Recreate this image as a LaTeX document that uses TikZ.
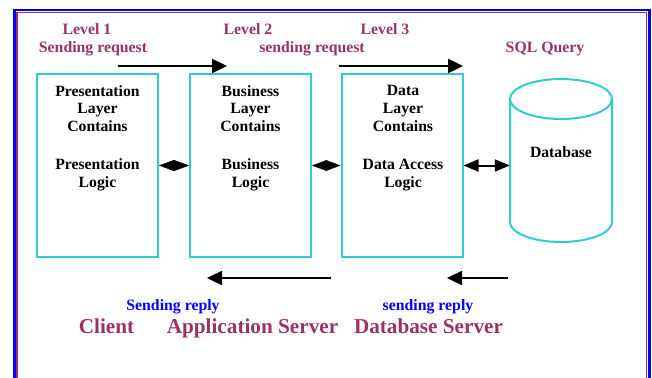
\documentclass[tikz,border=0pt]{standalone}
\usepackage{fontspec}
\setmainfont{Liberation Serif}
\usetikzlibrary{arrows.meta}
\definecolor{plum}{HTML}{993366}
\definecolor{turq}{HTML}{33CCCC}
\definecolor{frameblue}{HTML}{0000EE}
\tikzset{
  layerbox/.style={draw=turq, line width=2pt, minimum width=121pt, minimum height=183pt, inner sep=0pt},
  boxtext/.style={font=\fontsize{15.7}{17.8}\selectfont\bfseries, align=center, text=black, inner sep=0pt},
  plumtext/.style={font=\fontsize{15.8}{18}\selectfont\bfseries, text=plum, inner sep=0pt, anchor=base},
  bluetext/.style={font=\fontsize{15.8}{18}\selectfont\bfseries, text=blue, inner sep=0pt, anchor=base},
  bigtext/.style={font=\fontsize{21.2}{24}\selectfont\bfseries, text=plum, inner sep=0pt, anchor=base},
  flow/.style={line width=2.4pt, -{Triangle[length=15pt,width=14pt]}},
  link/.style={line width=0.3pt, {Triangle[length=15pt,width=11pt]}-{Triangle[length=15pt,width=11pt]}},
  dblink/.style={line width=2pt, {Triangle[length=15pt,width=12pt]}-{Triangle[length=15pt,width=12pt]}},
  cyl/.style={draw=turq, line width=2pt}
}
\begin{document}
\begin{tikzpicture}[x=1pt,y=-1pt]
\useasboundingbox (0,0) rectangle (652,377);
% frame
\draw[frameblue, line width=2.5pt] (14.5,400) -- (14.5,10) -- (649.5,10) -- (649.5,400);
\draw[plum, line width=1.2pt] (17,400) -- (17,12.8) -- (646.8,12.8) -- (646.8,400);

% boxes
\node[layerbox] (b1) at (97.5,165.5) {};
\node[layerbox] (b2) at (250.5,165.5) {};
\node[layerbox] (b3) at (402,165.5) {};

\node[boxtext] (t1) at (97.5,138) {Presentation\\Layer\\Contains\\[20pt]Presentation\\Logic};
\node[boxtext] (t2) at (250.5,138) {Business\\Layer\\Contains\\[20pt]Business\\Logic};
\node[boxtext] (t3) at (403,138) {Data\\Layer\\Contains\\[20pt]Data Access\\Logic};

% cylinder
\draw[cyl] (510,99) -- (510,222) arc[start angle=180, end angle=360, x radius=51pt, y radius=20pt] -- (612,99);
\draw[cyl] (561,99) ellipse[x radius=51pt, y radius=20pt];
\node[boxtext, minimum width=102pt] (db) at (561,152) {Database};

% links
\draw[link] (b1.east) -- (b2.west);
\draw[link] (b2.east) -- (b3.west);
\draw[dblink] (b3.east) -- (b3.east -| db.west);

% top labels
\node[plumtext] (l1) at (87,34.5) {Level 1};
\node[plumtext] (s1) at (93,52.5) {Sending request};
\node[plumtext] (l2) at (248,34.5) {Level 2};
\node[plumtext] (s2) at (312,52.5) {sending request};
\node[plumtext] (l3) at (385,34.5) {Level 3};
\node[plumtext] (sq) at (545,52.8) {SQL Query};

% top arrows
\coordinate (a1s) at (118,66);
\coordinate (a1e) at (227,66);
\coordinate (a2s) at (339,66);
\coordinate (a2e) at (463,66);
\draw[flow] (a1s) -- (a1e);
\draw[flow] (a2s) -- (a2e);

% bottom arrows
\coordinate (r1s) at (331,278);
\coordinate (r1e) at (207,278);
\coordinate (r2s) at (508,278);
\coordinate (r2e) at (447,278);
\draw[flow] (r1s) -- (r1e);
\draw[flow] (r2s) -- (r2e);

% bottom labels
\node[bluetext] (sr1) at (173,310) {Sending reply};
\node[bluetext] (sr2) at (428,310) {sending reply};
\node[bigtext] (cl) at (106.5,333.5) {Client};
\node[bigtext] (as) at (252.5,333.5) {Application Server};
\node[bigtext] (ds) at (428.5,333.5) {Database Server};
\end{tikzpicture}
\end{document}
